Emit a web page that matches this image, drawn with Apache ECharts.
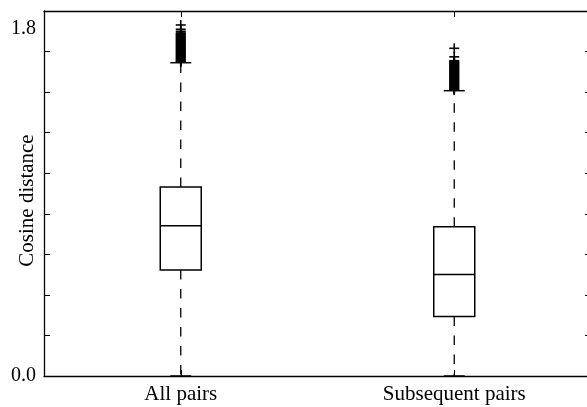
<!DOCTYPE html>
<html>
<head>
<meta charset="utf-8">
<script src="https://cdn.jsdelivr.net/npm/echarts@6/dist/echarts.min.js"></script>
<style>html,body{margin:0;padding:0;background:#fff;}#c{width:587px;height:407px;}</style>
</head>
<body>
<div id="c"></div>
<script>
var categories = ['All pairs', 'Subsequent pairs'];
// [lowerWhisker, Q1, median, Q3, upperWhisker]
var allPairsBox = [0.0, 0.523, 0.741, 0.932, 1.545];
var subsequentBox = [0.0, 0.294, 0.501, 0.736, 1.407];
var allPairsOutliers = [1.548, 1.552, 1.556, 1.560, 1.564, 1.568, 1.572, 1.576, 1.580, 1.584, 1.588, 1.592, 1.596, 1.600,
  1.604, 1.608, 1.612, 1.616, 1.620, 1.624, 1.628, 1.632, 1.636, 1.640, 1.644, 1.648, 1.652, 1.656, 1.660, 1.664,
  1.668, 1.672, 1.676, 1.680, 1.684, 1.688, 1.692, 1.700, 1.710, 1.731];
var subsequentOutliers = [1.410, 1.414, 1.418, 1.422, 1.426, 1.430, 1.434, 1.438, 1.442, 1.446, 1.450, 1.454, 1.458,
  1.462, 1.466, 1.470, 1.474, 1.478, 1.482, 1.486, 1.490, 1.494, 1.498, 1.502, 1.506, 1.510, 1.514, 1.518, 1.522,
  1.526, 1.530, 1.534, 1.538, 1.542, 1.546, 1.550, 1.555, 1.574, 1.616];
var yTickLabels = {0: '0.0', 1.8: '1.8'};

var FONT = '"Liberation Serif", "DejaVu Serif", serif';
var boxData = [[0].concat(allPairsBox), [1].concat(subsequentBox)];
var outlierData = [];
allPairsOutliers.forEach(function (v) { outlierData.push([0, v]); });
subsequentOutliers.forEach(function (v) { outlierData.push([1, v]); });

function renderBox(params, api) {
  var x = api.value(0);
  var lo = api.coord([x, api.value(1)]);
  var q1 = api.coord([x, api.value(2)]);
  var med = api.coord([x, api.value(3)]);
  var q3 = api.coord([x, api.value(4)]);
  var hi = api.coord([x, api.value(5)]);
  var cx = lo[0];
  var hw = 20.5, cw = 10.5;
  var solid = {stroke: '#000', lineWidth: 1.5, fill: null};
  var dashed = {stroke: '#000', lineWidth: 1.3, lineDash: [9.5, 9.5], fill: null};
  return {
    type: 'group',
    children: [
      {type: 'line', shape: {x1: cx, y1: q3[1], x2: cx, y2: hi[1]}, style: dashed},
      {type: 'line', shape: {x1: cx, y1: q1[1], x2: cx, y2: lo[1]}, style: dashed},
      {type: 'line', shape: {x1: cx - cw, y1: hi[1], x2: cx + cw, y2: hi[1]}, style: solid},
      {type: 'line', shape: {x1: cx - cw, y1: lo[1], x2: cx + cw, y2: lo[1]}, style: solid},
      {type: 'rect', shape: {x: cx - hw, y: q3[1], width: 2 * hw, height: q1[1] - q3[1]}, style: {stroke: '#000', lineWidth: 1.5, fill: '#fff'}},
      {type: 'line', shape: {x1: cx - hw, y1: med[1], x2: cx + hw, y2: med[1]}, style: solid}
    ]
  };
}

function renderPlus(params, api) {
  var p = api.coord([api.value(0), api.value(1)]);
  var s = 5;
  var st = {stroke: '#000', lineWidth: 1.6};
  return {
    type: 'group',
    children: [
      {type: 'line', shape: {x1: p[0] - s, y1: p[1], x2: p[0] + s, y2: p[1]}, style: st},
      {type: 'line', shape: {x1: p[0], y1: p[1] - s, x2: p[0], y2: p[1] + s}, style: st}
    ]
  };
}

var chart = echarts.init(document.getElementById('c'), null, {renderer: 'canvas'});
var axisLineStyle = {color: '#000', width: 1.3};
chart.setOption({
  animation: false,
  backgroundColor: '#fff',
  grid: {left: 44, right: -4, top: 11, bottom: 31, show: false, containLabel: false, outerBoundsMode: 'none'},
  xAxis: [
    {
      type: 'category', data: categories, position: 'bottom', boundaryGap: true,
      axisLine: {show: true, lineStyle: axisLineStyle},
      axisTick: {show: true, inside: true, alignWithLabel: true, length: 6, lineStyle: {color: '#000'}},
      axisLabel: {color: '#000', fontFamily: FONT, fontSize: 21, margin: 8},
      splitLine: {show: false}
    },
    {
      type: 'category', data: categories, position: 'top', boundaryGap: true,
      axisLine: {show: true, onZero: false, lineStyle: axisLineStyle},
      axisTick: {show: true, inside: true, alignWithLabel: true, length: 6, lineStyle: {color: '#000'}},
      axisLabel: {show: false},
      splitLine: {show: false}
    }
  ],
  yAxis: [
    {
      type: 'value', min: 0, max: 1.8, interval: 0.2, position: 'left',
      name: 'Cosine distance', nameLocation: 'middle', nameGap: 6, nameRotate: 90,
      nameMoveOverlap: false,
      nameTextStyle: {color: '#000', fontFamily: FONT, fontSize: 21, padding: [0, 14, 0, 0]},
      axisLine: {show: true, lineStyle: axisLineStyle},
      axisTick: {show: true, inside: true, length: 6, lineStyle: {color: '#000'}},
      axisLabel: {
        margin: 8,
        formatter: function (v) {
          if (Math.abs(v) < 1e-6) return '{b|' + yTickLabels[0] + '}';
          if (Math.abs(v - 1.8) < 1e-6) return '{t|' + yTickLabels[1.8] + '}';
          return '';
        },
        rich: {
          b: {color: '#000', fontFamily: FONT, fontSize: 20},
          t: {color: '#000', fontFamily: FONT, fontSize: 20, padding: [35, 0, 0, 0]}
        }
      },
      splitLine: {show: false}
    },
    {
      type: 'value', min: 0, max: 1.8, interval: 0.2, position: 'right',
      axisLine: {show: true, onZero: false, lineStyle: axisLineStyle},
      axisTick: {show: true, inside: true, length: 6, lineStyle: {color: '#000'}},
      axisLabel: {show: false},
      splitLine: {show: false}
    }
  ],
  series: [
    {
      type: 'custom', xAxisIndex: 0, yAxisIndex: 0, renderItem: renderBox,
      encode: {x: 0, y: [1, 2, 3, 4, 5]}, data: boxData, z: 3
    },
    {
      type: 'custom', xAxisIndex: 0, yAxisIndex: 0, renderItem: renderPlus,
      encode: {x: 0, y: 1}, data: outlierData, z: 4
    }
  ]
});
</script>
</body>
</html>
